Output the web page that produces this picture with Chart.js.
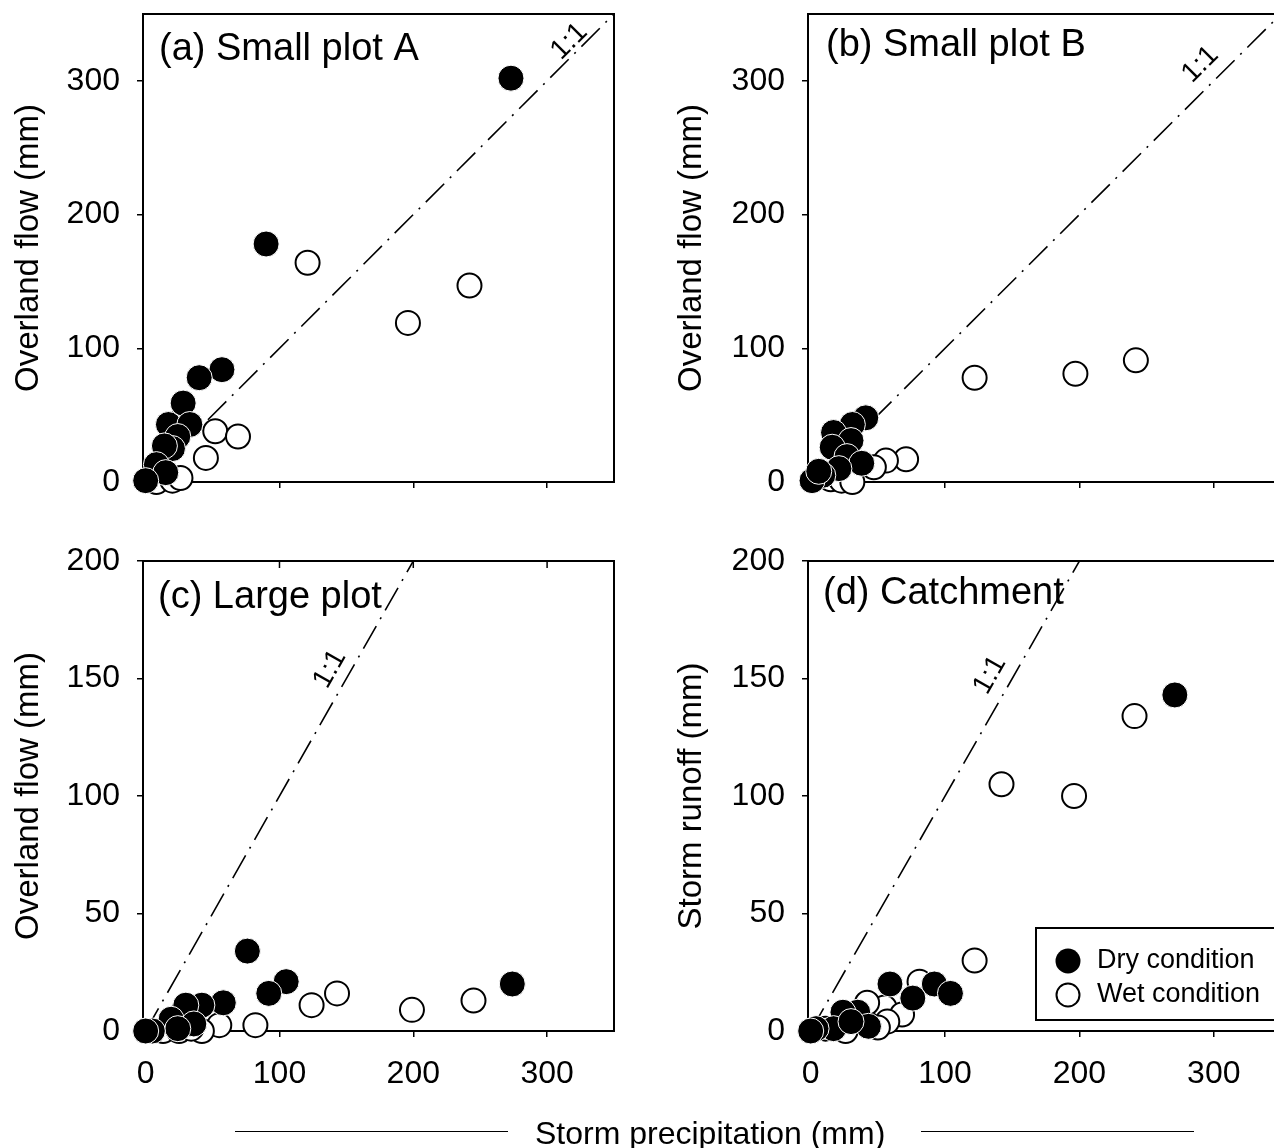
<!DOCTYPE html>
<html>
<head>
<meta charset="utf-8">
<script src="https://cdn.jsdelivr.net/npm/chart.js@4.4.1/dist/chart.umd.min.js"></script>
<style>
  html, body { margin:0; padding:0; background:#fff; overflow:hidden; width:1274px; height:1148px; }
  .panel { position:absolute; }
  .xlab { position:absolute; left:535px; top:1113px; height:40px; line-height:40px; white-space:nowrap;
          font-family:"Liberation Sans", Arial, Helvetica, sans-serif; font-size:32px; color:#000; }
  .rule { position:absolute; height:0; border-top:1.5px solid #000; }
</style>
</head>
<body>
<div class="panel" style="left:0px;top:0px;width:640px;height:540px"><canvas id="ca"></canvas></div>
<div class="panel" style="left:640px;top:0px;width:660px;height:540px"><canvas id="cb"></canvas></div>
<div class="panel" style="left:0px;top:540px;width:640px;height:608px"><canvas id="cc"></canvas></div>
<div class="panel" style="left:640px;top:540px;width:660px;height:608px"><canvas id="cd"></canvas></div>
<div class="rule" style="left:235px;top:1131px;width:273px"></div>
<div class="xlab" id="xlab">Storm precipitation (mm)</div>
<div class="rule" style="left:921px;top:1131px;width:273px"></div>
<script>
// ---------- data (storm precipitation mm, response mm) ----------
const xTickValues = [0, 100, 200, 300];
const yTickValuesTop = [0, 100, 200, 300];
const yTickValuesBottom = [0, 50, 100, 150, 200];

const dryA = [[273,302],[90,178],[57,84],[40,78],[28,59],[17,43],[33,43],[24,34],[20,25],[14,27],[8,13],[15,7],[0,1]];
const wetA = [[121,164],[196,119],[242,147],[52,38],[69,34],[45,18],[27,46],[8,0],[20,1],[26,3]];

const dryB = [[41,48],[31,43],[17,37],[30,31],[16,26],[27,19],[38,14],[21,10],[9,5],[1,1],[6,8]];
const wetB = [[122,78],[197,81],[242,91],[71,17],[56,16],[47,11],[15,2],[23,1],[31,0]];

const dryC = [[76,34],[105,21],[92,16],[274,20],[58,12],[42,11],[30,11],[19,5],[36,3],[24,1],[5,0],[0,0]];
const wetC = [[143,16],[124,11],[199,9],[245,13],[82,2.5],[55,2.5],[28,8],[42,0],[13,0],[25,0],[34,1]];

const dryD = [[271,143],[59,20],[92,20],[104,16],[76,14],[35,8],[24,8],[43,2],[17,1],[4,1],[0,0],[30,4]];
const wetD = [[241,134],[142,105],[196,100],[122,30],[81,21],[55,10],[68,7],[42,12],[57,4],[11,1],[26,0],[50,1.5]];

const FONT = '"Liberation Sans", Arial, Helvetica, sans-serif';

// ---------- decorations plugin ----------
const decor = {
  id: 'decor',
  beforeDatasetsDraw(chart) {
    const {ctx, chartArea: a} = chart;
    ctx.save();
    ctx.strokeStyle = '#000';
    ctx.lineWidth = 2;
    ctx.strokeRect(a.left, a.top, a.right - a.left, a.bottom - a.top);
    const o = chart.options.plugins.decor;
    if (o.topTicks) {
      ctx.lineWidth = 1.5;
      xTickValues.slice(1).forEach(v => {
        const px = chart.scales.x.getPixelForValue(v);
        ctx.beginPath(); ctx.moveTo(px, a.top); ctx.lineTo(px, a.top + 7); ctx.stroke();
      });
    }
    ctx.restore();
  },
  afterDatasetsDraw(chart) {
    const {ctx, chartArea: a, scales} = chart;
    const o = chart.options.plugins.decor;
    ctx.save();
    ctx.fillStyle = '#000';
    // panel title
    ctx.font = '38px ' + FONT;
    ctx.textAlign = 'left';
    ctx.textBaseline = 'alphabetic';
    ctx.fillText(o.title, a.left + o.titleDx, a.top + o.titleDy);
    // 1:1 label
    const x0 = scales.x.getPixelForValue(0), y0 = scales.y.getPixelForValue(0);
    const x1 = scales.x.getPixelForValue(o.lineEnd), y1 = scales.y.getPixelForValue(o.lineEnd);
    const len = Math.hypot(x1 - x0, y1 - y0);
    const dx = (x1 - x0) / len, dy = (y1 - y0) / len;
    const px = scales.x.getPixelForValue(o.labelAt), py = scales.y.getPixelForValue(o.labelAt);
    const cx = px + dy * o.labelOff, cy = py - dx * o.labelOff;
    ctx.translate(cx, cy);
    ctx.rotate(Math.atan2(dy, dx));
    ctx.font = '28px ' + FONT;
    ctx.textAlign = 'center';
    ctx.textBaseline = 'middle';
    ctx.fillText('1:1', 0, 0);
    ctx.restore();
    // legend
    if (o.legend) {
      ctx.save();
      const L = a.left + 228, T = a.bottom - 103, B = a.bottom - 11, R = a.right + 40;
      ctx.strokeStyle = '#000'; ctx.lineWidth = 2;
      ctx.strokeRect(L, T, R - L, B - T);
      const mx = a.left + 260;
      ctx.beginPath(); ctx.arc(mx, a.bottom - 70, 12.5, 0, Math.PI * 2); ctx.fillStyle = '#000'; ctx.fill();
      ctx.beginPath(); ctx.arc(mx, a.bottom - 36, 11.5, 0, Math.PI * 2); ctx.fillStyle = '#fff'; ctx.fill();
      ctx.lineWidth = 2; ctx.stroke();
      ctx.fillStyle = '#000';
      ctx.font = '27px ' + FONT;
      ctx.textAlign = 'left'; ctx.textBaseline = 'middle';
      ctx.fillText(chart.data.datasets[0].label, a.left + 289, a.bottom - 70);
      ctx.fillText(chart.data.datasets[1].label, a.left + 289, a.bottom - 36);
      ctx.restore();
    }
  }
};

function toPts(arr) { return arr.map(([x, y]) => ({x, y})); }

function makePanel(id, o) {
  return new Chart(document.getElementById(id), {
    type: 'scatter',
    data: {
      datasets: [
        { label: 'Dry condition', data: toPts(o.dry), pointRadius: 13, pointHoverRadius: 13,
          backgroundColor: '#000', borderColor: '#fff', borderWidth: 1, clip: false },
        { label: 'Wet condition', data: toPts(o.wet), pointRadius: 12, pointHoverRadius: 12,
          backgroundColor: '#fff', borderColor: '#000', borderWidth: 2, clip: false },
        { label: '1:1', data: [{x: 0, y: 0}, {x: o.lineEnd, y: o.lineEnd}], showLine: true,
          pointRadius: 0, borderColor: '#000', borderWidth: 1.6, borderDash: [26, 8, 2, 8], fill: false }
      ]
    },
    options: {
      responsive: true, maintainAspectRatio: false, animation: false, events: [],
      layout: { padding: { top: o.padTop, right: o.padRight, left: 0, bottom: 0 } },
      plugins: {
        legend: { display: false }, tooltip: { enabled: false },
        decor: { title: o.title, titleDx: o.titleDx, titleDy: o.titleDy, lineEnd: o.lineEnd,
                 labelAt: o.labelAt, labelOff: o.labelOff, legend: !!o.legend, topTicks: !!o.topTicks }
      },
      scales: {
        x: {
          type: 'linear', min: -2, max: 350,
          afterBuildTicks: s => { s.ticks = xTickValues.map(v => ({value: v})); },
          afterFit: s => { s.height = o.xHeight; s.paddingLeft = 0; s.paddingRight = 0; },
          ticks: { display: o.showXLabels, color: '#000', font: {family: FONT, size: 32}, padding: 18,
                   maxRotation: 0, autoSkip: false },
          grid: { display: true, drawOnChartArea: false, drawTicks: true, tickLength: 6, color: '#000', lineWidth: 1.5 },
          border: { display: false }
        },
        y: {
          type: 'linear', min: 0, max: o.yMax,
          afterBuildTicks: s => { s.ticks = o.yTicks.map(v => ({value: v})); },
          afterFit: s => { s.width = o.yWidth; s.paddingTop = 0; s.paddingBottom = 0; },
          ticks: { color: '#000', font: {family: FONT, size: 32}, padding: 17, autoSkip: false },
          grid: { display: true, drawOnChartArea: false, drawTicks: true, tickLength: 6, color: '#000', lineWidth: 1.5 },
          border: { display: false },
          title: { display: true, text: o.yTitle, color: '#000', font: {family: FONT, size: 33},
                   padding: {top: o.yTitlePad, bottom: 0} }
        }
      }
    },
    plugins: [decor]
  });
}

makePanel('ca', { dry: dryA, wet: wetA, title: '(a) Small plot A', titleDx: 16, titleDy: 46,
  lineEnd: 350, labelAt: 323, labelOff: 12, yMax: 350, yTicks: yTickValuesTop,
  padTop: 13, padRight: 26, yWidth: 143, xHeight: 58, showXLabels: false,
  yTitle: 'Overland flow (mm)', yTitlePad: 9 });

makePanel('cb', { dry: dryB, wet: wetB, title: '(b) Small plot B', titleDx: 18, titleDy: 42,
  lineEnd: 350, labelAt: 301, labelOff: 21, yMax: 350, yTicks: yTickValuesTop,
  padTop: 13, padRight: 19, yWidth: 168, xHeight: 58, showXLabels: false,
  yTitle: 'Overland flow (mm)', yTitlePad: 32 });

makePanel('cc', { dry: dryC, wet: wetC, title: '(c) Large plot', titleDx: 15, titleDy: 47,
  lineEnd: 200, labelAt: 150, labelOff: 19, yMax: 200, yTicks: yTickValuesBottom,
  padTop: 21, padRight: 26, yWidth: 143, xHeight: 117, showXLabels: true, topTicks: true,
  yTitle: 'Overland flow (mm)', yTitlePad: 9 });

makePanel('cd', { dry: dryD, wet: wetD, title: '(d) Catchment', titleDx: 15, titleDy: 43,
  lineEnd: 200, labelAt: 147, labelOff: 21, yMax: 200, yTicks: yTickValuesBottom,
  padTop: 21, padRight: 19, yWidth: 168, xHeight: 117, showXLabels: true, legend: true,
  yTitle: 'Storm runoff (mm)', yTitlePad: 32 });
</script>
</body>
</html>
